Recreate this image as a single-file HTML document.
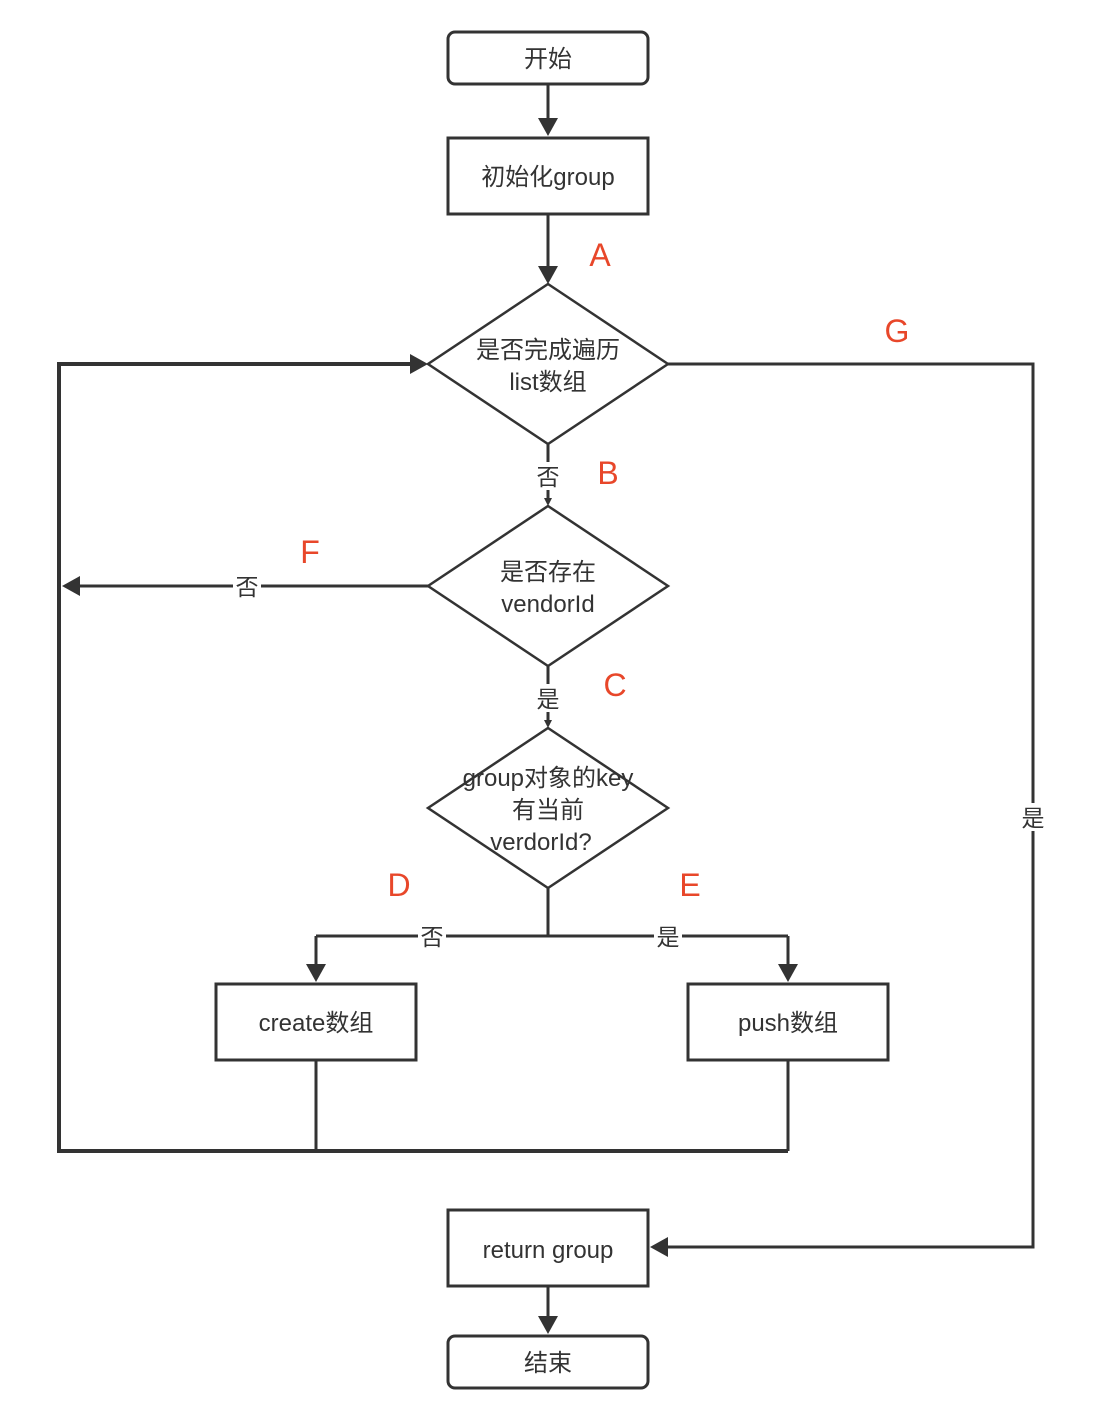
<!DOCTYPE html>
<html><head><meta charset="utf-8"><style>
html,body{margin:0;padding:0;background:#fff;}
svg{display:block;}
text{font-family:"Liberation Sans","Noto Sans CJK SC",sans-serif;fill:#333;}
.r{fill:#e8472a;font-size:32px;}
</style></head><body>
<svg width="1110" height="1422" viewBox="0 0 1110 1422" xmlns="http://www.w3.org/2000/svg">
<g fill="none" stroke="#333" stroke-width="3">
<rect x="448" y="32" width="200" height="52" rx="7"/>
<rect x="448" y="138" width="200" height="76"/>
<rect x="216" y="984" width="200" height="76"/>
<rect x="688" y="984" width="200" height="76"/>
<rect x="448" y="1210" width="200" height="76"/>
<rect x="448" y="1336" width="200" height="52" rx="7"/>
<path d="M548 84V120"/>
<path d="M548 214V268"/>
<path d="M548 888V936M316 936H788M316 936V966M788 936V966"/>
<path d="M316 1060V1151M788 1060V1151"/>
<path d="M548 1286V1318"/>
<path d="M668 364H1033V1247H668"/>
<path d="M428 586H78"/>
<path d="M548 444V500M548 666V722"/>
</g>
<g fill="none" stroke="#333" stroke-width="4">
<path d="M788 1151H59V364H410"/>
</g>
<g fill="#fff" stroke="#333" stroke-width="2.5">
<polygon points="548,284 668,364 548,444 428,364"/>
<polygon points="548,506 668,586 548,666 428,586"/>
<polygon points="548,728 668,808 548,888 428,808"/>
</g>
<g fill="#333">
<polygon points="538,118 558,118 548,136"/>
<polygon points="538,266 558,266 548,284"/>
<polygon points="306,964 326,964 316,982"/>
<polygon points="778,964 798,964 788,982"/>
<polygon points="538,1316 558,1316 548,1334"/>
<polygon points="410,354 410,374 428,364"/>
<polygon points="80,576 80,596 62,586"/>
<polygon points="668,1237 668,1257 650,1247"/>
<polygon points="544,498 552,498 548,506"/>
<polygon points="544,720 552,720 548,728"/>
</g>
<g fill="#fff">
<rect x="534" y="462" width="28" height="28"/>
<rect x="534" y="684" width="28" height="28"/>
<rect x="233" y="572" width="28" height="28"/>
<rect x="1019" y="803" width="28" height="28"/>
<rect x="418" y="922" width="28" height="28"/>
<rect x="654" y="922" width="28" height="28"/>
</g>
<g font-size="24" text-anchor="middle">
<text x="548" y="67">开始</text>
<text x="548" y="185">初始化group</text>
<text x="548" y="358">是否完成遍历</text>
<text x="548" y="390">list数组</text>
<text x="548" y="580">是否存在</text>
<text x="548" y="612">vendorId</text>
<text x="548" y="786">group对象的key</text>
<text x="548" y="818">有当前</text>
<text x="541" y="850">verdorId?</text>
<text x="316" y="1031">create数组</text>
<text x="788" y="1031">push数组</text>
<text x="548" y="1258">return group</text>
<text x="548" y="1371">结束</text>
</g>
<g font-size="23" text-anchor="middle">
<text x="548" y="485">否</text>
<text x="548" y="707">是</text>
<text x="247" y="595">否</text>
<text x="1033" y="826">是</text>
<text x="432" y="945">否</text>
<text x="668" y="945">是</text>
</g>
<g class="r" text-anchor="middle">
<text class="r" x="600" y="266">A</text>
<text class="r" x="897" y="342">G</text>
<text class="r" x="608" y="484">B</text>
<text class="r" x="310" y="563">F</text>
<text class="r" x="615" y="696">C</text>
<text class="r" x="399" y="896">D</text>
<text class="r" x="690" y="896">E</text>
</g>
</svg>
</body></html>
